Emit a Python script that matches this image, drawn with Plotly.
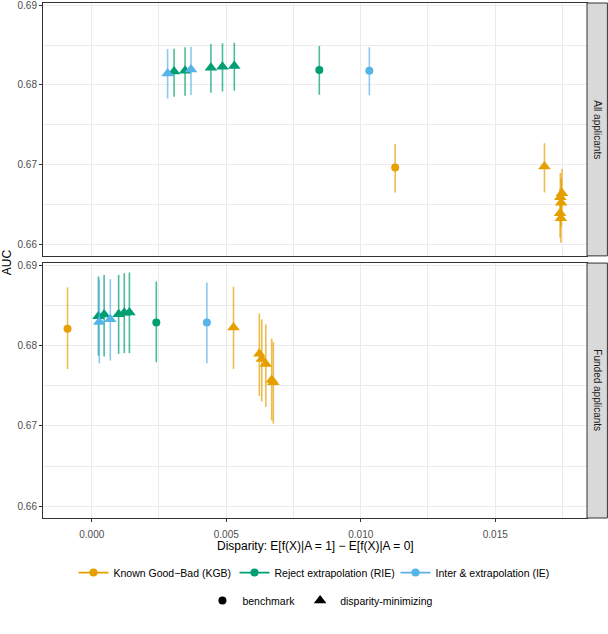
import plotly.graph_objects as go
from plotly.subplots import make_subplots

# --- data ------------------------------------------------------------------
method_labels = {
    "KGB": "Known Good\u2212Bad (KGB)",
    "RIE": "Reject extrapolation (RIE)",
    "IE": "Inter & extrapolation (IE)",
}
method_colors = {"KGB": "#E69F00", "RIE": "#009E73", "IE": "#56B4E9"}
kind_symbols = {"benchmark": "circle", "disparity-minimizing": "triangle-up"}

panel_labels = ["All applicants", "Funded applicants"]

# All applicants
all_method = ["KGB", "RIE", "IE",
              "IE", "RIE", "RIE", "IE", "RIE", "RIE", "RIE",
              "KGB", "KGB", "KGB", "KGB", "KGB", "KGB"]
all_kind = ["benchmark"] * 3 + ["disparity-minimizing"] * 13
all_disp = [0.01128, 0.00846, 0.01032,
            0.00282, 0.00306, 0.00347, 0.00369, 0.00443, 0.00486, 0.00530,
            0.01683, 0.01748, 0.01742, 0.01745, 0.01741, 0.01744]
all_auc = [0.66962, 0.68188, 0.68179,
           0.68144, 0.68169, 0.68179, 0.68194, 0.68217, 0.68229, 0.68238,
           0.66974, 0.66638, 0.66588, 0.66519, 0.66387, 0.66324]
all_lo = [0.66648, 0.67878, 0.67870,
          0.67830, 0.67853, 0.67865, 0.67874, 0.67903, 0.67916, 0.67928,
          0.66648, 0.66333, 0.66283, 0.66214, 0.66082, 0.66019]
all_hi = [0.67259, 0.68489, 0.68473,
          0.68451, 0.68455, 0.68473, 0.68480, 0.68514, 0.68523, 0.68531,
          0.67268, 0.66943, 0.66893, 0.66824, 0.66692, 0.66629]

# Funded applicants
fund_method = ["KGB", "RIE", "IE",
               "RIE", "IE", "RIE", "IE", "RIE", "RIE", "RIE",
               "KGB", "KGB", "KGB", "KGB", "KGB", "KGB"]
fund_kind = ["benchmark"] * 3 + ["disparity-minimizing"] * 13
fund_disp = [-0.00090, 0.00240, 0.00428,
             0.00025, 0.00028, 0.00046, 0.00069, 0.00100, 0.00121, 0.00140,
             0.00527, 0.00623, 0.00632, 0.00647, 0.00669, 0.00675]
fund_auc = [0.68212, 0.68288, 0.68288,
            0.68367, 0.68296, 0.68388, 0.68329, 0.68392, 0.68410, 0.68413,
            0.68225, 0.67898, 0.67835, 0.67773, 0.67572, 0.67543]
fund_lo = [0.67710, 0.67794, 0.67781,
           0.67873, 0.67781, 0.67864, 0.67814, 0.67898, 0.67907, 0.67907,
           0.67710, 0.67374, 0.67304, 0.67236, 0.67069, 0.67028]
fund_hi = [0.68727, 0.68799, 0.68786,
           0.68862, 0.68828, 0.68882, 0.68828, 0.68882, 0.68903, 0.68912,
           0.68736, 0.68401, 0.68329, 0.68266, 0.68087, 0.68045]

x_ticks = [0.000, 0.005, 0.010, 0.015]
x_ticklabels = ["0.000", "0.005", "0.010", "0.015"]
y_ticks = [0.66, 0.67, 0.68, 0.69]
y_ticklabels = ["0.66", "0.67", "0.68", "0.69"]


def rgba(hex_color, a):
    h = hex_color.lstrip("#")
    return "rgba(%d,%d,%d,%s)" % (int(h[0:2], 16), int(h[2:4], 16), int(h[4:6], 16), a)


fig = make_subplots(rows=2, cols=1, shared_xaxes=True)

panels = [
    (all_method, all_kind, all_disp, all_auc, all_lo, all_hi),
    (fund_method, fund_kind, fund_disp, fund_auc, fund_lo, fund_hi),
]

for row, (meth, kind, disp, auc, lo, hi) in enumerate(panels, start=1):
    for m in ["KGB", "RIE", "IE"]:
        for k in ["benchmark", "disparity-minimizing"]:
            idx = [i for i in range(len(meth)) if meth[i] == m and kind[i] == k]
            if not idx:
                continue
            fig.add_trace(go.Scatter(
                x=[disp[i] for i in idx],
                y=[auc[i] for i in idx],
                mode="markers",
                marker=dict(color=method_colors[m], symbol=kind_symbols[k],
                            size=8 if k == "benchmark" else 11, line=dict(width=0)),
                error_y=dict(type="data", symmetric=False,
                             array=[hi[i] - auc[i] for i in idx],
                             arrayminus=[auc[i] - lo[i] for i in idx],
                             width=0, thickness=1.6,
                             color=rgba(method_colors[m], 0.7)),
                showlegend=False, hoverinfo="x+y",
            ), row=row, col=1)

# legend entries
for m in ["KGB", "RIE", "IE"]:
    fig.add_trace(go.Scatter(
        x=[None], y=[None], mode="lines+markers", name=method_labels[m],
        marker=dict(color=method_colors[m], symbol="circle", size=8),
        line=dict(color=method_colors[m], width=1.6),
        legend="legend",
    ), row=1, col=1)
for k in ["benchmark", "disparity-minimizing"]:
    fig.add_trace(go.Scatter(
        x=[None], y=[None], mode="markers", name=k,
        marker=dict(color="black", symbol=kind_symbols[k],
                    size=8 if k == "benchmark" else 11),
        legend="legend2",
    ), row=1, col=1)

x_range = [-0.001812, 0.018411]
y_range = [0.65853, 0.69029]
grid = "#EBEBEB"
frame = "#333333"

common_x = dict(range=x_range, showline=True, mirror=True, linecolor=frame, linewidth=1,
                gridcolor=grid, gridwidth=1.2, tickvals=x_ticks, zeroline=False,
                automargin=False,
                minor=dict(showgrid=True, gridcolor=grid, gridwidth=0.6, dtick=0.0025,
                           tick0=0.0025))
common_y = dict(range=y_range, showline=True, mirror=True, linecolor=frame, linewidth=1,
                gridcolor=grid, gridwidth=1.2, tickvals=y_ticks, ticktext=y_ticklabels,
                ticks="outside", ticklen=3, tickcolor=frame, zeroline=False,
                automargin=False, ticklabeloverflow="allow",
                tickfont=dict(size=10, color="#4D4D4D"),
                minor=dict(showgrid=True, gridcolor=grid, gridwidth=0.6, dtick=0.005,
                           tick0=0.655))

fig.update_layout(
    xaxis=dict(common_x, showticklabels=False, ticks=""),
    xaxis2=dict(common_x, ticktext=x_ticklabels, ticks="outside", ticklen=3,
                tickcolor=frame, tickfont=dict(size=10, color="#4D4D4D"),
                ticklabelstandoff=4),
    yaxis=dict(common_y, domain=[0.509, 1.0]),
    yaxis2=dict(common_y, domain=[0.0, 0.495]),
)

top_dom = [0.509, 1.0]
bot_dom = [0.0, 0.495]
strip_w = 0.0375
for dom, lab in zip([top_dom, bot_dom], panel_labels):
    fig.add_shape(type="rect", xref="paper", yref="paper", x0=1.0, x1=1.0 + strip_w,
                  y0=dom[0], y1=dom[1], fillcolor="#D9D9D9",
                  line=dict(color=frame, width=1), layer="above")
    fig.add_annotation(text=lab, xref="paper", yref="paper", x=1.0 + strip_w / 2,
                       y=(dom[0] + dom[1]) / 2, textangle=90, showarrow=False,
                       xanchor="center", yanchor="middle",
                       font=dict(size=10, color="#1A1A1A"))

fig.add_annotation(text="AUC", xref="paper", yref="paper", x=-0.066, y=0.497,
                   xanchor="center", yanchor="middle",
                   textangle=-90, showarrow=False, font=dict(size=12, color="black"))
fig.add_annotation(text="Disparity: E[f(X)|A = 1] \u2212 E[f(X)|A = 0]", xref="paper",
                   yref="paper", x=0.5, y=-0.055, xanchor="center", yanchor="middle",
                   showarrow=False, font=dict(size=12, color="black"))

fig.update_layout(
    width=608, height=634,
    margin=dict(l=43, r=21, t=3, b=116, autoexpand=False),
    paper_bgcolor="white", plot_bgcolor="white",
    font=dict(family="Liberation Sans, Arial, sans-serif", color="black"),
    legend=dict(orientation="h", x=0.5, xanchor="center", y=-0.106, yanchor="middle",
                font=dict(size=10.5), bgcolor="rgba(0,0,0,0)", itemwidth=30,
                entrywidth=116, entrywidthmode="pixels"),
    legend2=dict(orientation="h", x=0.51, xanchor="center", y=-0.16, yanchor="middle",
                 font=dict(size=10.5), bgcolor="rgba(0,0,0,0)", itemwidth=30),
)

# page body has an 8px default margin; drop it so the figure sits at the corner
fig.write_html("out.html", config={"displayModeBar": False},
               post_script="document.body.style.margin='0';")
